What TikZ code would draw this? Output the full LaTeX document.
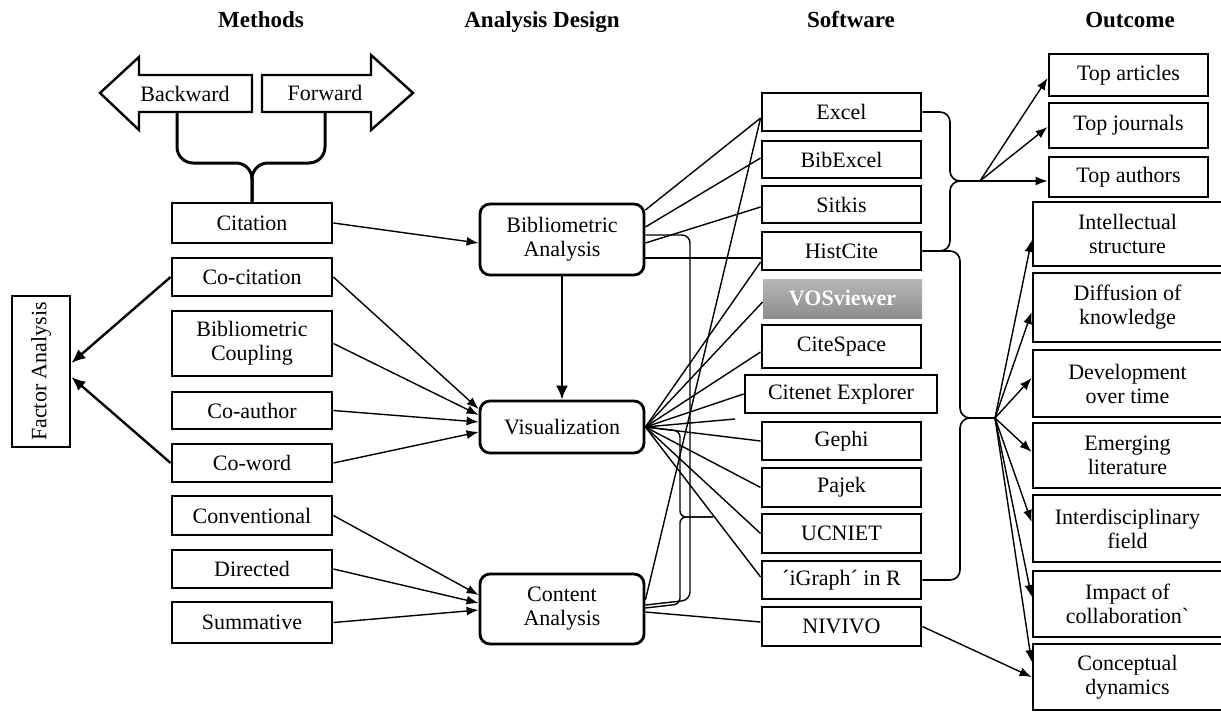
\documentclass[tikz,border=0pt]{standalone}
\usepackage{fontspec}
\setmainfont{Liberation Serif}
\usetikzlibrary{arrows.meta,calc}
\begin{document}
\begin{tikzpicture}[x=0.5pt,y=-0.5pt,
  every node/.style={font=\fontsize{11}{12}\selectfont, align=center, inner sep=1pt},
  box/.style={draw, line width=1.4pt, minimum width=80pt},
  rbox/.style={draw, line width=1.4pt, rounded corners=5pt, minimum width=82pt},
  sbox/.style={draw, line width=1.4pt, minimum width=79.5pt},
  obox/.style={draw, line width=1.4pt, minimum width=79.5pt},
  bbox/.style={draw, line width=1.4pt, minimum width=94.5pt},
  head/.style={font=\fontsize{11.5}{13}\selectfont\bfseries, anchor=base},
  conn/.style={line width=0.7pt},
  arr/.style={line width=0.7pt, -{Latex[length=6pt,width=4.5pt]}},
  tarr/.style={line width=1.2pt, -{Latex[length=7pt,width=6pt]}},
  brc/.style={line width=0.8pt, rounded corners=5pt},
]
\useasboundingbox (0,0) rectangle (1221,712);

% headers
\node[head] (h1) at (261,27) {Methods};
\node[head] (h2) at (542,27) {Analysis Design};
\node[head] (h3) at (851,27) {Software};
\node[head] (h4) at (1130,27) {Outcome};

% backward / forward arrows
\draw[line width=1.2pt] (100,93) -- (139,57) -- (139,75) -- (252,75) -- (252,112) -- (139,112) -- (139,130) -- cycle;
\node (bw) at (185,94) {Backward};
\draw[line width=1.2pt] (262,75) -- (371,75) -- (371,55) -- (413,93) -- (371,130) -- (371,112) -- (262,112) -- cycle;
\node (fw) at (325,93) {Forward};
\coordinate (bwb) at (177,112);
\coordinate (fwb) at (325,112);

% methods
\node[box, minimum height=20pt] (ci) at (252,223) {Citation};
\node[box, minimum height=19pt] (cc) at (252,277) {Co-citation};
\node[box, minimum height=32.5pt] (bc) at (252,343.5) {Bibliometric\\Coupling};
\node[box, minimum height=18.5pt] (cau) at (252,410.5) {Co-author};
\node[box, minimum height=19pt] (cw) at (252,463) {Co-word};
\node[box, minimum height=19.5pt] (cv) at (252,515.5) {Conventional};
\node[box, minimum height=19pt] (di) at (252,569) {Directed};
\node[box, minimum height=20.5pt] (su) at (252,622.5) {Summative};

\node[draw, line width=1.4pt, minimum width=29pt, minimum height=75.5pt] (fa) at (41,371.5) {\rotatebox{90}{Factor Analysis}};

% brace backward/forward -> citation
\draw[line width=1.5pt, rounded corners=8pt] (bwb) -- (177,163) -- (252,163) -- (ci.north);
\draw[line width=1.5pt, rounded corners=8pt] (fwb) -- (325,163) -- (252,163) -- (ci.north);

% analysis design
\node[rbox, minimum height=35.5pt] (ba) at (562,239.5) {Bibliometric\\Analysis};
\node[rbox, minimum height=26pt] (vi) at (562,427) {Visualization};
\node[rbox, minimum height=35pt] (cn) at (562,609) {Content\\Analysis};

% software
\node[sbox, minimum height=19pt] (ex) at (841.5,112) {Excel};
\node[sbox, minimum height=18.5pt] (be) at (841.5,159.5) {BibExcel};
\node[sbox, minimum height=18.5pt] (sk) at (841.5,204.5) {Sitkis};
\node[sbox, minimum height=19pt] (hc) at (841.5,251) {HistCite};
\node[top color=black!28, bottom color=black!45, minimum width=79.5pt, minimum height=19.5pt, text=white, font=\fontsize{11}{12}\selectfont\bfseries] (vo) at (842.5,298.5) {VOSviewer};
\node[sbox, minimum height=21.5pt] (cs) at (841.5,346.5) {CiteSpace};
\node[sbox, minimum width=96pt, minimum height=19pt] (ce) at (841,394) {Citenet Explorer};
\node[sbox, minimum height=19pt] (ge) at (841.5,441) {Gephi};
\node[sbox, minimum height=19.5pt] (pa) at (841.5,487.5) {Pajek};
\node[sbox, minimum height=19.5pt] (uc) at (841.5,533.5) {UCNIET};
\node[sbox, minimum height=19pt] (ig) at (841.5,580) {´iGraph´ in R};
\node[sbox, minimum height=19.5pt] (ni) at (841.5,626.5) {NIVIVO};

% outcome
\node[obox, minimum height=21pt] (ta) at (1128.5,75) {Top articles};
\node[obox, minimum height=22.5pt] (tj) at (1128.5,125.5) {Top journals};
\node[obox, minimum height=20pt] (tau) at (1128.5,177) {Top authors};
\node[bbox, minimum height=32pt] (is) at (1127.5,234) {Intellectual\\structure};
\node[bbox, minimum height=34.5pt] (dk) at (1127.5,307.5) {Diffusion of\\knowledge};
\node[bbox, minimum height=33.5pt] (dt) at (1127.5,383.5) {Development\\over time};
\node[bbox, minimum height=32.5pt] (el) at (1127.5,455.5) {Emerging\\literature};
\node[bbox, minimum height=33.5pt] (if) at (1127.5,528.5) {Interdisciplinary\\field};
\node[bbox, minimum height=33pt] (ic) at (1127.5,604) {Impact of\\collaboration\textasciigrave};
\node[bbox, minimum height=33pt] (cd) at (1127.5,677) {Conceptual\\dynamics};

% factor analysis arrows
\draw[tarr] (cc.west) -- ([yshift=4.25pt]fa.east);
\draw[tarr] (cw.west) -- ([yshift=-2.75pt]fa.east);

% methods -> analysis
\draw[arr] (ci.east) -- ([yshift=-1.75pt]ba.west);
\draw[arr] (cc.east) -- ([yshift=9pt]vi.west);
\draw[arr] (bc.east) -- ([yshift=6pt]vi.west);
\draw[arr] (cau.east) -- ([yshift=2.5pt]vi.west);
\draw[arr] (cw.east) -- ([yshift=-2.5pt]vi.west);
\draw[arr] (cv.east) -- ([yshift=7pt]cn.west);
\draw[arr] (di.east) -- ([yshift=3pt]cn.west);
\draw[arr] (su.east) -- ([yshift=-0.5pt]cn.west);
\draw[tarr, line width=1.1pt] (ba.south) -- (vi.north);

% bibliometric analysis -> software
\draw[conn] ([yshift=14.75pt]ba.east) -- ([yshift=-3pt]ex.west);
\draw[conn] ([yshift=6.25pt]ba.east) -- ([yshift=0.75pt]be.west);
\draw[conn] ([yshift=-1.75pt]ba.east) -- ([yshift=-1.25pt]sk.west);
\draw[conn] ([yshift=-9.25pt]ba.east) -- ([yshift=-3.5pt]hc.west);
\draw[conn, rounded corners=4pt] ([yshift=2.25pt]ba.east) -- (690,235) -- (690,600) -- ([yshift=2pt]cn.east);

% visualization -> software
\coordinate (vfree) at (735,419);
\coordinate (vtip) at (713,517);
\draw[conn] (vi.east) -- ([yshift=-5.5pt]hc.west);
\draw[conn] (vi.east) -- ([yshift=-1.75pt]vo.west);
\draw[conn] (vi.east) -- ([yshift=-2.75pt]cs.west);
\draw[conn] (vi.east) -- (ce.west);
\draw[conn] (vi.east) -- (vfree);
\draw[conn] (vi.east) -- (ge.west);
\draw[conn] (vi.east) -- (pa.west);
\draw[conn] (vi.east) -- (uc.west);
\draw[conn] (vi.east) -- ([yshift=1.5pt]ig.west);
\draw[conn, rounded corners=3pt] (vi.east) -- (680,431) -- (680,517) -- (vtip);
\draw[conn, rounded corners=3pt] ([yshift=0.5pt]cn.east) -- (680,604) -- (680,517) -- (vtip);

% content analysis -> software
\draw[conn] ([yshift=4.5pt]cn.east) -- ([yshift=-3pt]ex.west);
\draw[conn] ([yshift=-1.5pt]cn.east) -- ([yshift=2.25pt]ni.west);

% software braces
\coordinate (j1) at (980,181);
\coordinate (j2) at (995,418);
\draw[brc] (ex.east) -- (950,112) -- (950,181) -- (j1);
\draw[brc] (hc.east) -- (950,251) -- (950,181) -- (j1);
\draw[brc] (hc.east) -- (960,251) -- (960,418) -- (j2);
\draw[brc] (ig.east) -- (960,580) -- (960,418) -- (j2);

% outcome arrows
\draw[arr] (j1) -- ([yshift=-1.5pt]ta.west);
\draw[arr] (j1) -- ([yshift=-0.75pt]tj.west);
\draw[arr] (j1) -- ([yshift=-2pt]tau.west);
\draw[arr] (j2) -- ([yshift=-3pt]is.west);
\draw[arr] (j2) -- ([yshift=-2.25pt]dk.west);
\draw[arr] (j2) -- ([yshift=2.75pt]dt.west);
\draw[arr] (j2) -- ([yshift=1.75pt]el.west);
\draw[arr] (j2) -- ([yshift=3.25pt]if.west);
\draw[arr] (j2) -- ([yshift=3.5pt]ic.west);
\draw[arr] (j2) -- ([yshift=7.5pt]cd.west);
\draw[arr] (ni.east) -- (cd.west);
\end{tikzpicture}
\end{document}
